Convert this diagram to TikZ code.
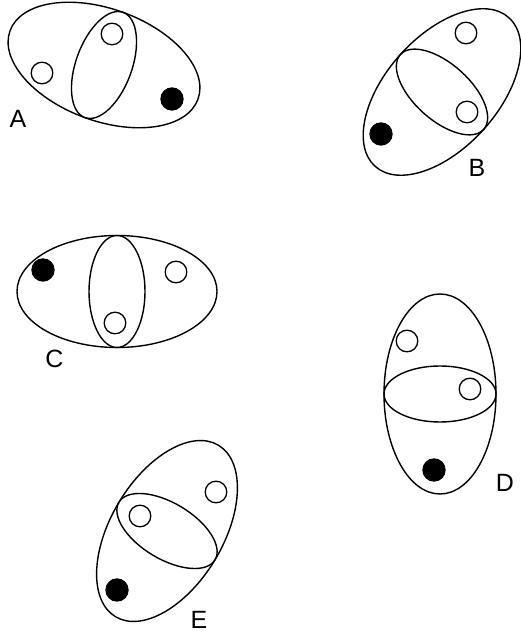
\documentclass[tikz,border=0pt]{standalone}
\usepackage{fontspec}
\setmainfont{Liberation Sans}
\begin{document}
\begin{tikzpicture}[x=1pt,y=1pt,
  ell/.style={line width=1.4pt},
  opendot/.style={circle,draw,line width=1.3pt,minimum size=21.6pt,inner sep=0pt},
  filldot/.style={circle,draw,fill=black,line width=1.3pt,minimum size=22pt,inner sep=0pt},
  lbl/.style={font=\fontsize{25}{25}\selectfont,inner sep=0pt}]
\useasboundingbox (0,0) rectangle (520,634);
\newcommand\twoell[3]{%
  \draw[ell, rotate around={#3:(#1,#2)}] (#1,#2) ellipse [x radius=100, y radius=56];
  \draw[ell, rotate around={#3+90:(#1,#2)}] (#1,#2) ellipse [x radius=56, y radius=28];}
% A
\twoell{104}{569}{-20}
\node[opendot] (a1) at (112,600) {};
\node[opendot] (a2) at (42,561) {};
\node[filldot] (a3) at (172,535) {};
\node[lbl] (la) at (18,515) {A};
% B
\twoell{442}{542}{48}
\node[opendot] (b1) at (466,601) {};
\node[opendot] (b2) at (467,522) {};
\node[filldot] (b3) at (381,500) {};
\node[lbl] (lb) at (477,466) {B};
% C
\twoell{117}{342.5}{0}
\node[filldot] (c1) at (43,364) {};
\node[opendot] (c2) at (176,362) {};
\node[opendot] (c3) at (115,311) {};
\node[lbl] (lc) at (54.5,275) {C};
% D
\twoell{440}{240}{90}
\node[opendot] (d1) at (407,293) {};
\node[opendot] (d2) at (470,245) {};
\node[filldot] (d3) at (434,164) {};
\node[lbl] (ld) at (505,151.5) {D};
% E
\twoell{167}{103}{59}
\node[opendot] (e1) at (216,142) {};
\node[opendot] (e2) at (140,118) {};
\node[filldot] (e3) at (117,44) {};
\node[lbl] (le) at (199,14.5) {E};
\end{tikzpicture}
\end{document}
